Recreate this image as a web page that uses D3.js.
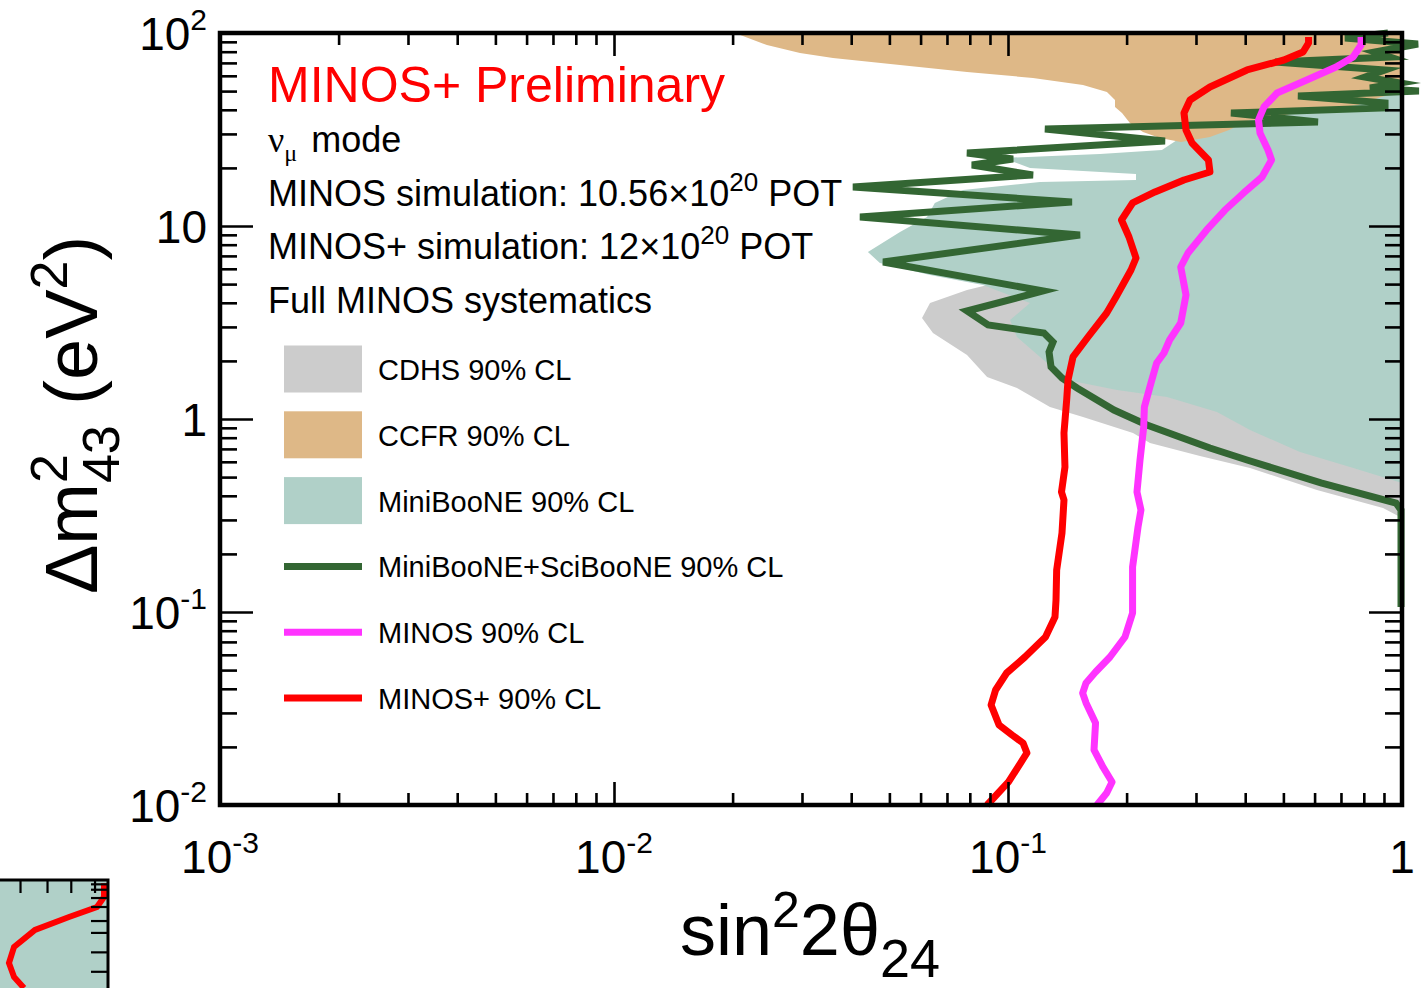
<!DOCTYPE html>
<html>
<head>
<meta charset="utf-8">
<script src="https://cdn.jsdelivr.net/npm/d3@7"></script>
<style>
  body { margin: 0; background: #fff; }
  svg { display: block; font-family: "Liberation Sans", Arial, Helvetica, sans-serif; }
</style>
</head>
<body>
<svg id="chart" width="1422" height="988"></svg>
<script>
// ---- axis ranges and tick labels ----
const xDomain = [1e-3, 1];
const yDomain = [1e-2, 1e2];
const xTickValues = [1e-3, 1e-2, 1e-1, 1];
const xTickBase = ["10", "10", "10", "1"];
const xTickExp = ["-3", "-2", "-1", ""];
const yTickValues = [1e2, 10, 1, 1e-1, 1e-2];
const yTickBase = ["10", "10", "1", "10", "10"];
const yTickExp = ["2", "", "", "-1", "-2"];

// ---- exclusion contours: [sin^2 2theta_24, dm^2_43 (eV^2)] ----
const cdhsRegion = [
  [0.0605, 3.337], [0.0634, 3.990], [0.0787, 4.661], [0.0954, 5.127], [0.3, 5.5], [1, 5.5],
  [1, 0.3069], [0.8951, 0.3459], [0.6083, 0.4285], [0.4114, 0.5573], [0.3071, 0.6432],
  [0.2293, 0.7509], [0.2076, 0.8462], [0.1550, 1.024], [0.1278, 1.154], [0.1054, 1.447],
  [0.0885, 1.651], [0.0787, 2.146], [0.0645, 2.790]
];
const ccfrRegion = [
  [0.02028, 100], [0.02444, 86.66], [0.02965, 78.76], [0.03596, 74.21], [0.05318, 68.29],
  [0.07872, 62.81], [0.1157, 58.47], [0.1550, 53.77], [0.1783, 49.47], [0.1869, 44.96],
  [0.1869, 41.37], [0.1947, 38.49], [0.2039, 34.18], [0.2201, 30.69], [0.2431, 28.58],
  [0.2748, 27.24], [0.3255, 28.92], [0.3639, 31.44], [0.4043, 34.99], [0.5608, 38.96],
  [0.7731, 42.37], [0.8845, 46.61], [1, 49.47], [1, 100]
];
const miniBooNERegion = [
  [1, 49.47], [0.5510, 40.88], [0.3660, 33.37], [0.2733, 28.58], [0.2459, 24.76],
  [0.1712, 23.61], [0.0971, 22.51], [0.1137, 19.98], [0.2113, 18.59], [0.2113, 17.31],
  [0.1206, 16.90], [0.0769, 15.37], [0.0652, 13.16], [0.0623, 11.13], [0.0532, 9.309],
  [0.0441, 7.333], [0.0473, 6.431], [0.0634, 5.573], [0.0864, 4.947], [0.1137, 3.990],
  [0.1012, 3.258], [0.1054, 2.660], [0.1206, 2.096], [0.1412, 1.593], [0.1891, 1.413],
  [0.2532, 1.300], [0.3392, 1.087], [0.4114, 0.877], [0.5510, 0.6745], [0.7379, 0.564],
  [1, 0.4663]
];
const sciBooNELine = [
  [0.9215, 100], [0.7166, 94.21], [1.098, 87.7], [0.8541, 79.71], [0.9323, 75.09],
  [0.4762, 70.74], [0.9056, 64.33], [0.8055, 59.16], [0.9884, 55.08], [0.8293, 51.88],
  [1.104, 50.07], [0.5445, 47.17], [0.9056, 43.40], [0.9056, 40.88], [0.3681, 38.49],
  [0.6119, 34.59], [0.1241, 31.81], [0.2503, 27.56], [0.0787, 23.89], [0.1030, 22.25],
  [0.0810, 20.70], [0.1157, 18.38], [0.0404, 15.93], [0.1453, 13.32], [0.0421, 11.13],
  [0.1523, 8.982], [0.0482, 6.508], [0.1227, 4.605], [0.0787, 3.627], [0.0890, 3.069],
  [0.1234, 2.790], [0.1301, 2.506], [0.1271, 2.225], [0.1286, 1.860], [0.1371, 1.631],
  [0.1497, 1.447], [0.1858, 1.113], [0.2253, 0.9309], [0.3255, 0.7075], [0.4043, 0.6134],
  [0.6227, 0.4663], [0.9656, 0.3671], [0.9942, 0.3377], [0.9942, 0.1061]
];
const minosLine = [
  [0.1682, 0.01], [0.1780, 0.01154], [0.1837, 0.01316], [0.1742, 0.01573], [0.1653, 0.01928],
  [0.1668, 0.0266], [0.1578, 0.03377], [0.1547, 0.03804], [0.1578, 0.04287], [0.1668, 0.04888],
  [0.1815, 0.05846], [0.1981, 0.07421], [0.2071, 0.09881], [0.2071, 0.1465], [0.2071, 0.1711],
  [0.2138, 0.2757], [0.2175, 0.3377], [0.2125, 0.4185], [0.2163, 0.6134], [0.2210, 0.9088],
  [0.2219, 1.154], [0.2306, 1.537], [0.2384, 1.951], [0.2488, 2.198], [0.2571, 2.566],
  [0.2744, 3.144], [0.2830, 4.390], [0.2744, 6.131], [0.2863, 7.246], [0.3193, 9.535],
  [0.3554, 12.10], [0.3963, 14.83], [0.4413, 17.94], [0.4665, 21.98], [0.4570, 24.76],
  [0.4361, 30.33], [0.4323, 35.42], [0.4463, 41.37], [0.4818, 48.88], [0.5730, 57.08],
  [0.6803, 66.65], [0.7513, 75.09], [0.7872, 86.66], [0.7872, 95.35]
];
const minosPlusLine = [
  [0.0885, 0.01], [0.1003, 0.01316], [0.1117, 0.0186], [0.1092, 0.02095], [0.1024, 0.02305],
  [0.0949, 0.02597], [0.0906, 0.03298], [0.0930, 0.03944], [0.0992, 0.0483], [0.1104, 0.05846],
  [0.1245, 0.07421], [0.1316, 0.09422], [0.1324, 0.1154], [0.1329, 0.165], [0.1371, 0.2566],
  [0.1387, 0.3804], [0.1367, 0.4185], [0.1395, 0.564], [0.1387, 0.8462], [0.1409, 1.254],
  [0.1420, 1.593], [0.1462, 2.096], [0.1596, 2.660], [0.1780, 3.541], [0.1880, 4.287],
  [0.2052, 5.916], [0.2113, 6.827], [0.2028, 8.770], [0.1941, 10.74], [0.2071, 13.16],
  [0.2361, 15.01], [0.2797, 17.31], [0.3255, 19.05], [0.3227, 21.98], [0.2931, 26.92],
  [0.2830, 31.44], [0.2797, 38.49], [0.2897, 44.96], [0.3255, 52.51], [0.4043, 64.33],
  [0.5018, 72.46], [0.5608, 79.71], [0.5792, 88.77], [0.5792, 95.35]
];

// ---- legend ----
const legendLabels = ["CDHS 90% CL", "CCFR 90% CL", "MiniBooNE 90% CL",
  "MiniBooNE+SciBooNE 90% CL", "MINOS 90% CL", "MINOS+ 90% CL"];
const legendKinds = ["fill", "fill", "fill", "line", "line", "line"];

// ---- neighbouring panel fragment (bottom-left corner), unit coordinates ----
const fragmentCurve = [[0.963, 0.03], [0.963, 0.157], [0.898, 0.25], [0.639, 0.343], [0.324, 0.463],
  [0.13, 0.62], [0.083, 0.769], [0.13, 0.898], [0.222, 1.0]];
const fragmentTopTicks = [0.19, 0.44, 0.66, 0.88];
const fragmentSideTicks = [0.04, 0.09, 0.167, 0.25, 0.38, 0.49, 0.67, 0.85];

// ---- styles ----
const colors = {
  cdhs: "#cccccc", ccfr: "#deb887", miniboone: "#b0d0c8",
  sciboone: "#336633", minos: "#ff33ff", minosPlus: "#ff0000"
};
const legendColors = [colors.cdhs, colors.ccfr, colors.miniboone, colors.sciboone, colors.minos, colors.minosPlus];

const svg = d3.select("#chart");
const plot = { left: 220, right: 1402, top: 33, bottom: 805 };

const x = d3.scaleLog().domain(xDomain).range([plot.left, plot.right]);
const y = d3.scaleLog().domain(yDomain).range([plot.bottom, plot.top]);

const line = d3.line().x(d => x(d[0])).y(d => y(d[1]));
const closed = d => line(d) + "Z";

// filled regions
const regions = svg.append("g");
regions.append("path").attr("d", closed(cdhsRegion)).attr("fill", colors.cdhs);
regions.append("path").attr("d", closed(miniBooNERegion)).attr("fill", colors.miniboone);
regions.append("path").attr("d", closed(ccfrRegion)).attr("fill", colors.ccfr);

// contour lines
const curves = svg.append("g").attr("fill", "none").attr("stroke-linejoin", "miter").attr("stroke-miterlimit", 6);
curves.append("path").attr("d", line(sciBooNELine)).attr("stroke", colors.sciboone).attr("stroke-width", 7);
curves.append("path").attr("d", line(minosLine)).attr("stroke", colors.minos).attr("stroke-width", 7)
  .attr("stroke-linejoin", "round");
curves.append("path").attr("d", line(minosPlusLine)).attr("stroke", colors.minosPlus).attr("stroke-width", 7)
  .attr("stroke-linejoin", "round");

// ---- ticks on all four sides ----
function minorTicks(e0, e1) {
  const t = [];
  for (let e = e0; e < e1; e++) for (let k = 2; k <= 9; k++) t.push(k * Math.pow(10, e));
  return t;
}
const xMinor = minorTicks(-3, 0);
const yMinor = minorTicks(-2, 2);
const axes = svg.append("g");
function tickRow(axisFn, scale, values, size, tx, ty) {
  const a = axisFn(scale).tickValues(values).tickSizeInner(-size).tickSizeOuter(0).tickFormat("");
  const g = axes.append("g").attr("transform", `translate(${tx},${ty})`).call(a);
  g.select(".domain").remove();
  g.selectAll("text").remove();
  g.selectAll("line").attr("stroke", "#000").attr("stroke-width", 2.6);
}
tickRow(d3.axisBottom, x, xTickValues, 23, 0, plot.bottom);
tickRow(d3.axisBottom, x, xMinor, 12, 0, plot.bottom);
tickRow(d3.axisTop, x, xTickValues, 23, 0, plot.top);
tickRow(d3.axisTop, x, xMinor, 12, 0, plot.top);
tickRow(d3.axisLeft, y, yTickValues, 33, plot.left, 0);
tickRow(d3.axisLeft, y, yMinor, 17, plot.left, 0);
tickRow(d3.axisRight, y, yTickValues, 33, plot.right, 0);
tickRow(d3.axisRight, y, yMinor, 17, plot.right, 0);

axes.append("rect")
  .attr("x", plot.left).attr("y", plot.top)
  .attr("width", plot.right - plot.left).attr("height", plot.bottom - plot.top)
  .attr("fill", "none").attr("stroke", "#000").attr("stroke-width", 4.5);

// ---- tick labels ----
const tickFont = 46;
const xl = svg.append("g").attr("font-size", tickFont).attr("text-anchor", "middle");
xTickValues.forEach((v, i) => {
  const t = xl.append("text").attr("x", x(v)).attr("y", 873);
  t.append("tspan").text(xTickBase[i]);
  if (xTickExp[i]) t.append("tspan").attr("dy", -20).attr("font-size", 30).text(xTickExp[i]);
});
const yl = svg.append("g").attr("font-size", tickFont).attr("text-anchor", "end");
yTickValues.forEach((v, i) => {
  const t = yl.append("text").attr("x", 207).attr("y", y(v) + 17);
  t.append("tspan").text(yTickBase[i]);
  if (yTickExp[i]) t.append("tspan").attr("dy", -20).attr("font-size", 30).text(yTickExp[i]);
});

// ---- axis titles ----
const xt = svg.append("text").attr("x", 810).attr("y", 955).attr("text-anchor", "middle").attr("font-size", 72);
xt.append("tspan").text("sin");
xt.append("tspan").attr("font-size", 50).attr("dy", -28).text("2");
xt.append("tspan").attr("dy", 28).text("2θ");
xt.append("tspan").attr("font-size", 54).attr("dy", 22).text("24");

const yt = svg.append("text").attr("transform", "translate(97,415) rotate(-90)")
  .attr("text-anchor", "middle").attr("font-size", 74);
yt.append("tspan").text("Δm");
yt.append("tspan").attr("font-size", 52).attr("dy", -30).text("2");
yt.append("tspan").attr("font-size", 52).attr("dx", -29).attr("dy", 52).text("43");
yt.append("tspan").attr("dy", -22).text(" (eV");
yt.append("tspan").attr("font-size", 52).attr("dy", -30).text("2");
yt.append("tspan").attr("dy", 30).text(")");

// ---- annotation block ----
const note = svg.append("g").attr("font-size", 36);
note.append("text").attr("x", 268).attr("y", 102).attr("font-size", 50).attr("fill", "#ff0000")
  .text("MINOS+ Preliminary");
const nu = note.append("text").attr("x", 268).attr("y", 152);
nu.append("tspan").attr("font-family", "'Liberation Serif', 'Times New Roman', serif").text("ν");
nu.append("tspan").attr("font-family", "'Liberation Serif', 'Times New Roman', serif")
  .attr("font-size", 24).attr("dy", 9).text("μ");
nu.append("tspan").attr("dy", -9).attr("dx", 4).text(" mode");
const sim1 = note.append("text").attr("x", 268).attr("y", 206);
sim1.append("tspan").text("MINOS simulation: 10.56×10");
sim1.append("tspan").attr("font-size", 26).attr("dy", -15).text("20");
sim1.append("tspan").attr("dy", 15).text(" POT");
const sim2 = note.append("text").attr("x", 268).attr("y", 259);
sim2.append("tspan").text("MINOS+ simulation: 12×10");
sim2.append("tspan").attr("font-size", 26).attr("dy", -15).text("20");
sim2.append("tspan").attr("dy", 15).text(" POT");
note.append("text").attr("x", 268).attr("y", 313).text("Full MINOS systematics");

// ---- legend ----
const legend = svg.append("g");
legendLabels.forEach((label, i) => {
  const cy = 369 + i * 65.8;
  if (legendKinds[i] === "fill") {
    legend.append("rect").attr("x", 284).attr("y", cy - 23.5).attr("width", 78).attr("height", 47)
      .attr("fill", legendColors[i]);
  } else {
    legend.append("line").attr("x1", 284).attr("x2", 362).attr("y1", cy).attr("y2", cy)
      .attr("stroke", legendColors[i]).attr("stroke-width", 7);
  }
  legend.append("text").attr("x", 378).attr("y", cy + 11).attr("font-size", 29).text(label);
});

// ---- fragment of the neighbouring panel in the bottom-left corner ----
const fx = d3.scaleLinear().domain([0, 1]).range([0, 108]);
const fy = d3.scaleLinear().domain([0, 1]).range([880, 988]);
const frag = svg.append("g");
frag.append("rect").attr("x", fx(0)).attr("y", fy(0)).attr("width", fx(1) - fx(0)).attr("height", fy(1) - fy(0))
  .attr("fill", colors.miniboone);
frag.append("path").attr("d", d3.line().x(d => fx(d[0])).y(d => fy(d[1]))(fragmentCurve))
  .attr("fill", "none").attr("stroke", "#ff0000").attr("stroke-width", 6);
frag.selectAll("line.tt").data(fragmentTopTicks).join("line")
  .attr("x1", d => fx(d)).attr("x2", d => fx(d)).attr("y1", fy(0)).attr("y2", fy(0) + 13)
  .attr("stroke", "#000").attr("stroke-width", 2.2);
frag.selectAll("line.st").data(fragmentSideTicks).join("line")
  .attr("x1", fx(1)).attr("x2", fx(1) - 17).attr("y1", d => fy(d)).attr("y2", d => fy(d))
  .attr("stroke", "#000").attr("stroke-width", 2.2);
frag.append("path").attr("d", `M${fx(0)},${fy(0)}H${fx(1)}V${fy(1)}`)
  .attr("fill", "none").attr("stroke", "#000").attr("stroke-width", 3);
</script>
</body>
</html>
